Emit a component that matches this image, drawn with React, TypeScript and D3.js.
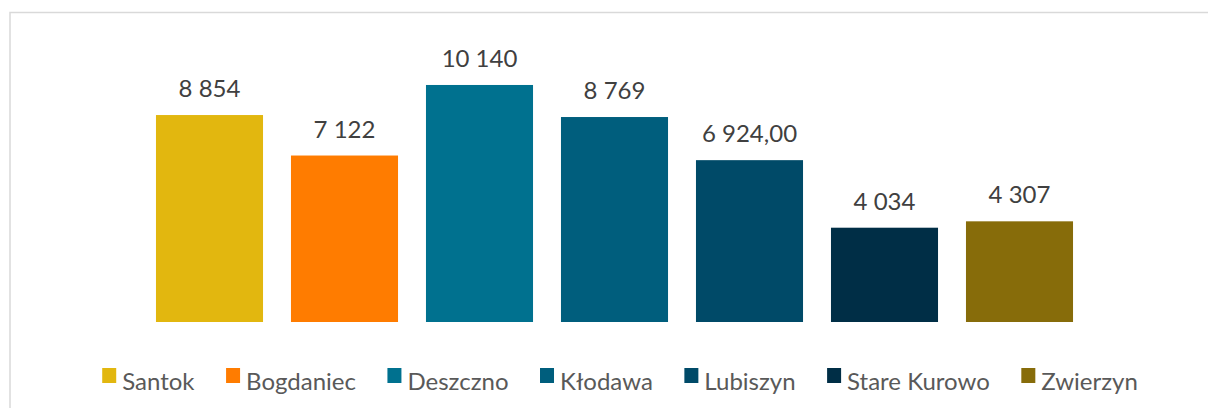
import React, { useEffect, useRef } from 'react';
import { select, scaleBand, scaleLinear } from 'd3';

const categories = ['Santok', 'Bogdaniec', 'Deszczno', 'Kłodawa', 'Lubiszyn', 'Stare Kurowo', 'Zwierzyn'];
const values = [8854, 7122, 10140, 8769, 6924, 4034, 4307];
const valueLabels = ['8 854', '7 122', '10 140', '8 769', '6 924,00', '4 034', '4 307'];
const colors = ['#E2B70F', '#FF7C00', '#00718F', '#005E7D', '#004A68', '#002E46', '#876C0A'];

function App() {
  const svgRef = useRef<SVGSVGElement | null>(null);

  const width = 1208,
    height = 408;

  useEffect(() => {
    const svg = select(svgRef.current);
    svg.selectAll('*').remove();

    // chart frame (right/bottom edges are outside the picture)
    svg.append('rect')
      .attr('x', 10)
      .attr('y', 12.5)
      .attr('width', 1220)
      .attr('height', 420)
      .attr('fill', '#fff')
      .attr('stroke', '#d9d9d9')
      .attr('stroke-width', 1.5);

    const xScale = scaleBand<string>()
      .domain(categories)
      .range([142, 1087])
      .paddingInner(0.207)
      .paddingOuter(0.1035);

    const yScale = scaleLinear()
      .domain([0, 12000])
      .range([322, 41.5]);

    const bars = svg.append('g');
    bars.selectAll('rect')
      .data(values)
      .join('rect')
      .attr('x', (d, i) => xScale(categories[i]) as number)
      .attr('y', d => yScale(d))
      .attr('width', xScale.bandwidth())
      .attr('height', d => yScale(0) - yScale(d))
      .attr('fill', (d, i) => colors[i]);

    bars.selectAll('text')
      .data(values)
      .join('text')
      .attr('x', (d, i) => (xScale(categories[i]) as number) + xScale.bandwidth() / 2)
      .attr('y', d => yScale(d) - 18)
      .attr('text-anchor', 'middle')
      .attr('font-family', 'Lato, sans-serif')
      .attr('font-size', 24)
      .attr('fill', '#404040')
      .text((d, i) => valueLabels[i]);

    // legend, laid out from measured text widths
    const legend = svg.append('g');
    const items = legend.selectAll('g')
      .data(categories)
      .join('g');
    items.append('rect')
      .attr('width', 14)
      .attr('height', 15)
      .attr('y', 368)
      .attr('fill', (d, i) => colors[i]);
    const texts = items.append('text')
      .attr('x', 20)
      .attr('y', 390)
      .attr('font-family', 'Lato, sans-serif')
      .attr('font-size', 24)
      .attr('fill', '#595959')
      .text(d => d);

    const widths: number[] = [];
    texts.each(function () {
      widths.push((this as SVGTextElement).getComputedTextLength());
    });
    const gap = 31.5;
    const total = widths.reduce((s, w) => s + 20 + w, 0) + gap * (widths.length - 1);
    let cursor = 620 - total / 2;
    items.attr('transform', (d, i) => {
      const t = `translate(${cursor}, 0)`;
      cursor += 20 + widths[i] + gap;
      return t;
    });
  }, []);

  return (
    <div style={{ position: 'fixed', left: 0, top: 0 }}>
      <svg ref={svgRef} width={width} height={height} style={{ display: 'block', background: '#fff' }}></svg>
    </div>
  );
}

export default App;
